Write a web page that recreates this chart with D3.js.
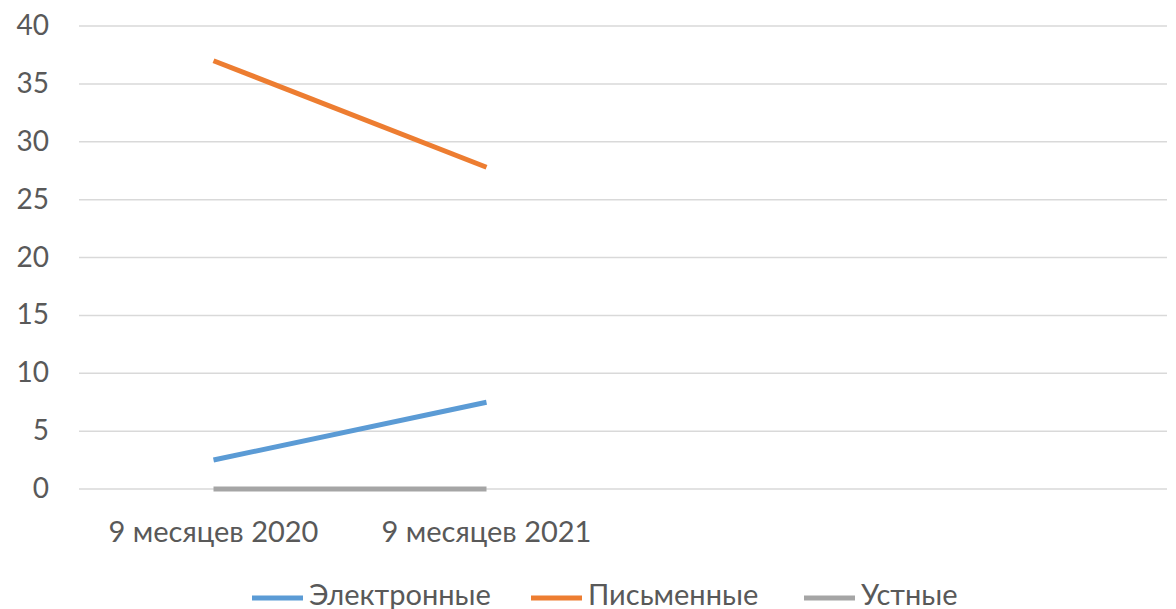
<!DOCTYPE html>
<html><head><meta charset="utf-8">
<script src="https://cdn.jsdelivr.net/npm/d3@7"></script>
<style>body{margin:0;background:#fff}svg{display:block}text{font-family:Lato,"Open Sans",sans-serif;fill:#595959}</style>
</head><body><svg id="c" width="1176" height="609"></svg>
<script>
const categories = ["9 месяцев 2020", "9 месяцев 2021", "", " "];
const seriesNames = ["Электронные", "Письменные", "Устные"];
const electronic = [2.5, 7.5];
const written = [37, 27.8];
const oral = [0, 0];
const yTicks = [0, 5, 10, 15, 20, 25, 30, 35, 40];
const colors = ["#5B9BD5", "#ED7D31", "#A5A5A5"];

const svg = d3.select("#c");
const x = d3.scaleBand().domain(categories).range([77, 1169]);
const y = d3.scaleLinear().domain([0, 40]).range([489, 26]);

svg.append("g").selectAll("line").data(yTicks).join("line")
  .attr("x1", 79).attr("x2", 1167).attr("y1", d => y(d)).attr("y2", d => y(d))
  .attr("stroke", "#D9D9D9").attr("stroke-width", 1.5);

svg.append("g").selectAll("text").data(yTicks).join("text")
  .attr("x", 49).attr("y", d => y(d) + 9).attr("text-anchor", "end")
  .style("font-size", "28px").text(d => d);

svg.append("g").selectAll("text").data(categories.slice(0, 2)).join("text")
  .attr("x", d => x(d) + x.bandwidth() / 2).attr("y", 542)
  .attr("text-anchor", "middle").style("font-size", "29px").text(d => d);

const series = [electronic, written, oral];
const line = d3.line().x((d, i) => x(categories[i]) + x.bandwidth() / 2).y(d => y(d));
series.forEach((s, k) => {
  svg.append("path").datum(s).attr("d", line).attr("fill", "none")
    .attr("stroke", colors[k]).attr("stroke-width", 5);
});

const legendX = [252, 531, 804];
const lg = svg.append("g").selectAll("g").data(seriesNames).join("g")
  .attr("transform", (d, i) => `translate(${legendX[i]},598)`);
lg.append("line").attr("x1", 0).attr("x2", 51).attr("stroke", (d, i) => colors[i]).attr("stroke-width", 5);
lg.append("text").attr("x", 57).attr("y", 7).style("font-size", "29px").text(d => d);
</script></body></html>
